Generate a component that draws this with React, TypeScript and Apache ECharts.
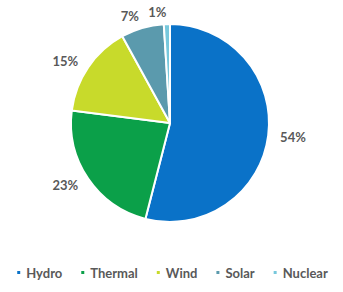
import React, { useEffect, useRef } from "react";
import * as echarts from "echarts";

const categories = ["Hydro", "Thermal", "Wind", "Solar", "Nuclear"];
const values = [54, 23, 15, 7, 1];
const colors = ["#0A72C8", "#0BA049", "#C8DA2B", "#5B9AAD", "#77C8DC"];

export default function App() {
  const ref = useRef<HTMLDivElement>(null);
  useEffect(() => {
    const chart = echarts.init(ref.current!, null, { renderer: "svg" });
    chart.setOption({
      animation: false,
      color: colors,
      legend: {
        bottom: 13,
        left: "center",
        padding: 0,
        icon: "rect",
        itemWidth: 5,
        itemHeight: 5,
        itemGap: 17,
        textStyle: { color: "#595959", fontSize: 13, fontWeight: "bold", fontFamily: "Lato" },
        data: categories,
      },
      series: [
        {
          type: "pie",
          center: [170, 123],
          radius: [0, 99],
          startAngle: 90,
          clockwise: true,
          avoidLabelOverlap: false,
          itemStyle: { borderColor: "#fff", borderWidth: 2 },
          label: {
            show: true,
            position: "outside",
            formatter: "{c}%",
            color: "#595959",
            fontSize: 13,
            fontWeight: "bold",
            fontFamily: "Lato",
            distanceToLabelLine: 0,
          },
          labelLine: { show: true, length: 12, length2: 0, lineStyle: { width: 0, opacity: 0 } },
          data: categories.map((n, i) => ({ name: n, value: values[i] })),
        },
      ],
    });
    return () => chart.dispose();
  }, []);
  return (
    <div
      ref={ref}
      style={{ position: "absolute", left: 0, top: 0, width: 343, height: 292 }}
    />
  );
}
